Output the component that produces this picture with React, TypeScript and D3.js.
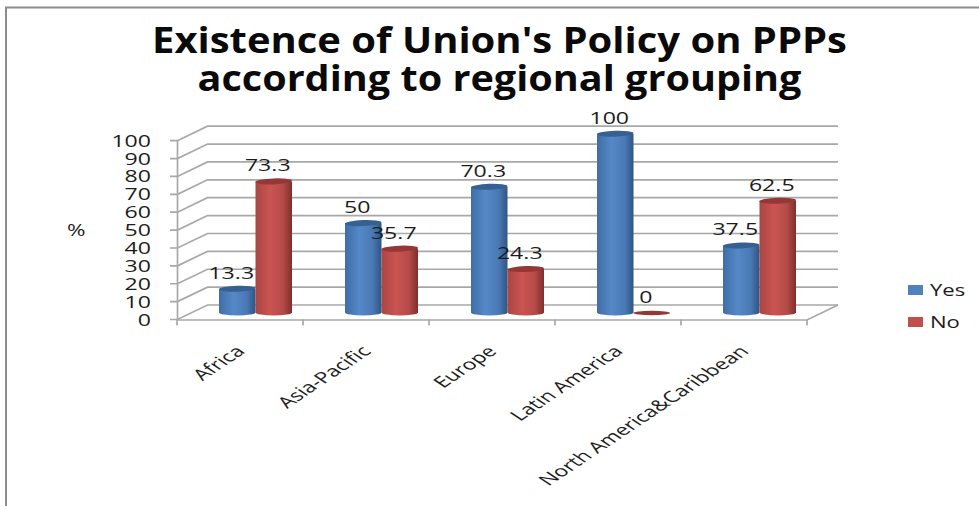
import React from "react";
import * as d3 from "d3";

const categories = ["Africa", "Asia-Pacific", "Europe", "Latin America", "North America&Caribbean"];
const seriesNames = ["Yes", "No"];
const yesValues = [13.3, 50, 70.3, 100, 37.5];
const noValues = [73.3, 35.7, 24.3, 0, 62.5];
const yTicks = [0, 10, 20, 30, 40, 50, 60, 70, 80, 90, 100];
const titleLines = ["Existence of Union's Policy on PPPs", "according to regional grouping"];

const FONT = "'Open Sans', sans-serif";
const GRID = "#a8a8a8";
const TEXT = "#1c1c1c";

export default function App() {
  const x0 = d3.scaleBand<string>().domain(categories).range([177, 807]).padding(0);
  const x1 = d3.scaleBand<string>().domain(seriesNames).range([0, 73]);
  const y = d3.scaleLinear().domain([0, 100]).range([319.5, 140.7]);
  const dx = 30;
  const dy = -14.5;
  const baseShift = -7;
  const barX = (i: number, s: string) => x0(categories[i])! + 42 + x1(s)!;
  const bw = x1.bandwidth();
  const colors: Record<string, string> = { Yes: "url(#gBlue)", No: "url(#gRed)" };
  const caps: Record<string, string> = { Yes: "#376092", No: "#953735" };
  const solid: Record<string, string> = { Yes: "#4f81bd", No: "#c0504d" };
  const series: [string, number[]][] = [["Yes", yesValues], ["No", noValues]];

  return (
    <svg width={979} height={506} style={{ position: "absolute", left: 0, top: 0, background: "#fff" }}>
      <defs>
        <linearGradient id="gBlue">
          <stop offset="0" stopColor="#3f6ea6" />
          <stop offset="0.4" stopColor="#5588c8" />
          <stop offset="0.75" stopColor="#4a7ab5" />
          <stop offset="1" stopColor="#2f5585" />
        </linearGradient>
        <linearGradient id="gRed">
          <stop offset="0" stopColor="#a84643" />
          <stop offset="0.4" stopColor="#cb5451" />
          <stop offset="0.75" stopColor="#b54b48" />
          <stop offset="1" stopColor="#7f2f2d" />
        </linearGradient>
      </defs>

      <path d="M6,506V7.5H979" fill="none" stroke="#8c8c8c" strokeWidth={2} />

      {titleLines.map((t, i) => (
        <text key={t} x={499.5} y={[53, 91][i]} textAnchor="middle" fontFamily={FONT} fontWeight={700} fontSize={36}
          fill="#0a0a0a" textLength={[695, 604][i]} lengthAdjust="spacingAndGlyphs">{t}</text>
      ))}

      {yTicks.map((t) => (
        <g key={t}>
          <path d={`M170,${y(t)}H177.5L${177.5 + dx},${y(t) + dy}H838`} fill="none" stroke={GRID} strokeWidth={1.7} />
          <text transform={`translate(151,${y(t) + 6}) scale(1.4,1)`} textAnchor="end" fontFamily={FONT} fontSize={16.5} fill={TEXT}>{t}</text>
        </g>
      ))}
      <path d={`M177.5,${y(0)}V${y(100)}`} stroke={GRID} strokeWidth={1.7} fill="none" />
      <path d={`M177,${y(0) + 0.5}H807L838,${y(0) + dy}`} fill="none" stroke={GRID} strokeWidth={1.7} />
      {[...categories.map((c) => x0(c)!), 807].map((t) => (
        <path key={t} d={`M${t},${y(0)}V${y(0) + 6}`} stroke={GRID} strokeWidth={1.7} />
      ))}

      <text transform="translate(67,236) scale(1.4,1)" fontFamily={FONT} fontSize={16} fill={TEXT}>%</text>

      {categories.map((c, i) =>
        series.map(([s, vals]) => {
          const bx = barX(i, s);
          const rx = bw / 2;
          const cx = bx + rx;
          const ry = 3;
          const base = y(0) + baseShift;
          const top = base - (y(0) - y(vals[i]));
          return (
            <g key={c + s}>
              {vals[i] > 0 ? (
                <>
                  <path d={`M${bx},${top}V${base}A${rx},${ry} 0 0 0 ${bx + bw},${base}V${top}Z`} fill={colors[s]} />
                  <ellipse cx={cx} cy={top} rx={rx} ry={ry} fill={caps[s]} transform={`rotate(-2 ${cx} ${top})`} />
                </>
              ) : (
                <ellipse cx={cx} cy={top + 0.5} rx={rx} ry={2.2} fill={caps[s]} />
              )}
              <text transform={`translate(${cx - 6},${top - 10}) scale(1.4,1)`} textAnchor="middle" fontFamily={FONT} fontSize={16.5} fill={TEXT}>{vals[i]}</text>
            </g>
          );
        })
      )}

      {categories.map((c) => (
        <text key={c} transform={`translate(${x0(c)! + 55},${343}) scale(1.5,1) rotate(-45)`} textAnchor="end" dominantBaseline="hanging"
          fontFamily={FONT} fontSize={15.4} fill={TEXT}>{c}</text>
      ))}

      {seriesNames.map((s, i) => (
        <g key={s}>
          <rect x={908} y={285 + i * 32} width={15} height={10} fill={solid[s]} />
          <text transform={`translate(930,${295.5 + i * 32}) scale(1.38,1)`} fontFamily={FONT} fontSize={16} fill={TEXT}>{s}</text>
        </g>
      ))}
    </svg>
  );
}
